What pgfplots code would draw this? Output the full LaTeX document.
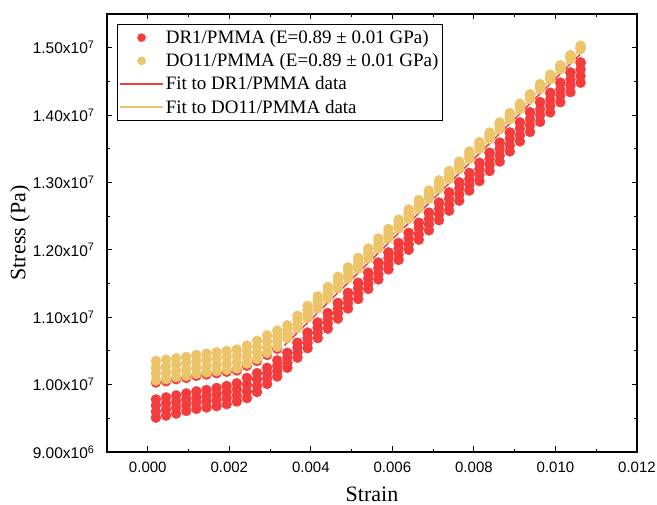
\documentclass[border=0pt]{standalone}
\usepackage{pgfplots}
\pgfplotsset{compat=1.18}
\usepackage{pgfplotstable}
\usepackage{fontspec}
\setmainfont{Liberation Serif}
\newfontfamily\arialfont{Liberation Sans}
\definecolor{cred}{RGB}{245,60,60}
\definecolor{cyel}{RGB}{236,196,106}

% stress in units of 1e6 Pa
\pgfplotstableread{
x r1 r2 r3 r4 r5 y1 y2 y3 y4
0.000200 9.51 9.60 9.69 9.78 10.03 10.06 10.16 10.25 10.35
0.000448 9.54 9.63 9.72 9.81 10.05 10.08 10.18 10.27 10.37
0.000696 9.57 9.66 9.75 9.84 10.08 10.11 10.20 10.30 10.39
0.000944 9.61 9.70 9.78 9.87 10.10 10.13 10.22 10.32 10.41
0.001192 9.64 9.73 9.81 9.90 10.13 10.16 10.25 10.35 10.44
0.001440 9.66 9.75 9.83 9.92 10.15 10.18 10.27 10.37 10.46
0.001688 9.68 9.77 9.86 9.95 10.17 10.20 10.29 10.39 10.48
0.001936 9.71 9.80 9.89 9.98 10.19 10.22 10.31 10.41 10.50
0.002184 9.75 9.84 9.93 10.02 10.21 10.24 10.33 10.43 10.52
0.002432 9.80 9.90 10.00 10.10 10.28 10.31 10.40 10.49 10.58
0.002680 9.89 9.98 10.08 10.17 10.35 10.38 10.47 10.56 10.65
0.002928 10.01 10.09 10.17 10.25 10.44 10.47 10.55 10.64 10.73
0.003176 10.12 10.20 10.28 10.36 10.53 10.56 10.64 10.72 10.80
0.003424 10.25 10.32 10.40 10.47 10.47 10.69 10.75 10.82 10.88
0.003672 10.40 10.47 10.55 10.62 10.62 10.84 10.90 10.96 11.02
0.003920 10.54 10.62 10.69 10.77 10.77 10.99 11.05 11.11 11.17
0.004168 10.69 10.77 10.84 10.92 10.92 11.13 11.19 11.25 11.31
0.004416 10.83 10.91 10.98 11.06 11.06 11.28 11.34 11.39 11.45
0.004664 10.98 11.06 11.13 11.21 11.21 11.43 11.49 11.54 11.60
0.004912 11.13 11.21 11.28 11.36 11.36 11.58 11.63 11.69 11.74
0.005160 11.27 11.35 11.43 11.51 11.51 11.72 11.77 11.83 11.88
0.005408 11.42 11.50 11.58 11.66 11.66 11.87 11.92 11.97 12.02
0.005656 11.56 11.64 11.73 11.81 11.81 12.02 12.07 12.12 12.17
0.005904 11.71 11.79 11.88 11.96 11.96 12.17 12.22 12.26 12.31
0.006152 11.85 11.93 12.02 12.10 12.10 12.32 12.36 12.41 12.45
0.006400 12.00 12.08 12.17 12.25 12.25 12.46 12.51 12.55 12.60
0.006648 12.15 12.23 12.32 12.40 12.40 12.61 12.65 12.70 12.74
0.006896 12.29 12.38 12.46 12.55 12.55 12.76 12.80 12.84 12.88
0.007144 12.44 12.53 12.61 12.70 12.70 12.91 12.95 12.99 13.03
0.007392 12.58 12.67 12.76 12.85 12.85 13.05 13.09 13.13 13.17
0.007640 12.73 12.82 12.91 13.00 13.00 13.20 13.24 13.27 13.31
0.007888 12.88 12.97 13.05 13.14 13.14 13.35 13.39 13.42 13.46
0.008136 13.02 13.11 13.20 13.29 13.29 13.50 13.53 13.57 13.60
0.008384 13.17 13.26 13.35 13.44 13.44 13.65 13.68 13.71 13.74
0.008632 13.31 13.40 13.50 13.59 13.59 13.79 13.82 13.86 13.89
0.008880 13.46 13.55 13.65 13.74 13.74 13.94 13.97 14.00 14.03
0.009128 13.61 13.70 13.80 13.89 13.89 14.09 14.12 14.14 14.17
0.009376 13.75 13.85 13.94 14.04 14.04 14.24 14.26 14.29 14.31
0.009624 13.90 14.00 14.09 14.19 14.19 14.39 14.41 14.44 14.46
0.009872 14.04 14.14 14.23 14.33 14.33 14.53 14.55 14.58 14.60
0.010120 14.19 14.29 14.38 14.48 14.48 14.68 14.70 14.72 14.74
0.010368 14.34 14.44 14.53 14.63 14.63 14.83 14.85 14.87 14.89
0.010616 14.48 14.58 14.68 14.78 14.78 14.98 14.99 15.01 15.03
}\data

\begin{document}
\begin{tikzpicture}
\path[use as bounding box] (-107pt,-53pt) rectangle (550pt,452pt);
\begin{axis}[
  scale only axis, width=530pt, height=438pt,
  xmin=-0.001, xmax=0.012, ymin=9, ymax=15.5,
  xtick={0,0.002,0.004,0.006,0.008,0.010,0.012},
  xticklabels={0.000,0.002,0.004,0.006,0.008,0.010,0.012},
  ytick={9,10,11,12,13,14,15},
  yticklabels={9.00x10\textsuperscript{6},1.00x10\textsuperscript{7},1.10x10\textsuperscript{7},1.20x10\textsuperscript{7},1.30x10\textsuperscript{7},1.40x10\textsuperscript{7},1.50x10\textsuperscript{7}},
  minor x tick num=1, minor y tick num=1,
  scaled x ticks=false, scaled y ticks=false,
  tick align=inside,
  major tick length=5.5pt, minor tick length=3pt,
  axis line style={line width=1.2pt},
  every tick/.style={black, line width=1pt},
  xticklabel style={font=\arialfont\fontsize{15}{17}\selectfont, yshift=-6pt},
  yticklabel style={font=\arialfont\fontsize{15.5}{17}\selectfont, xshift=-9pt},
  xlabel={Strain}, ylabel={Stress (Pa)},
  label style={font=\fontsize{22}{26}\selectfont, inner sep=0pt},
  xlabel style={at={(axis description cs:0.5,-0.096)}, anchor=center},
  ylabel style={at={(axis description cs:-0.164,0.5)}, anchor=center},
  legend style={at={(axis description cs:0,1)}, anchor=north west, xshift=10pt, yshift=-10pt,
    draw=black, line width=0.6pt, font=\fontsize{19}{21}\selectfont,
    row sep=4.5pt, inner xsep=2pt, inner ysep=4pt},
  legend cell align=left,
  legend image code/.code={\draw[mark repeat=2,mark phase=2,#1,mark size=4pt] plot coordinates {(0pt,0pt) (21.5pt,0pt) (43pt,0pt)};},
]
\addplot[only marks, mark=*, mark size=5pt, color=cred, mark options={draw=none, fill=cred}] table[x=x,y=r1]{\data};
\addlegendentry{DR1/PMMA (E=0.89 ± 0.01 GPa)}
\addplot[forget plot, only marks, mark=*, mark size=5pt, color=cred, mark options={draw=none, fill=cred}] table[x=x,y=r2]{\data};
\addplot[forget plot, only marks, mark=*, mark size=5pt, color=cred, mark options={draw=none, fill=cred}] table[x=x,y=r3]{\data};
\addplot[forget plot, only marks, mark=*, mark size=5pt, color=cred, mark options={draw=none, fill=cred}] table[x=x,y=r4]{\data};
\addplot[forget plot, only marks, mark=*, mark size=5pt, color=cred, mark options={draw=none, fill=cred}] table[x=x,y=r5]{\data};
\addplot[only marks, mark=*, mark size=5pt, color=cyel, mark options={draw=none, fill=cyel}] table[x=x,y=y1]{\data};
\addlegendentry{DO11/PMMA (E=0.89 ± 0.01 GPa)}
\addplot[forget plot, only marks, mark=*, mark size=5pt, color=cyel, mark options={draw=none, fill=cyel}] table[x=x,y=y2]{\data};
\addplot[forget plot, only marks, mark=*, mark size=5pt, color=cyel, mark options={draw=none, fill=cyel}] table[x=x,y=y3]{\data};
\addplot[forget plot, only marks, mark=*, mark size=5pt, color=cyel, mark options={draw=none, fill=cyel}] table[x=x,y=y4]{\data};
\addplot[color=cred, line width=1.5pt, no marks] coordinates {(0.00335,10.58) (0.0106,14.90)};
\addlegendentry{Fit to DR1/PMMA data}
\addplot[color=cyel, line width=1.5pt, no marks] coordinates {(0.00335,10.64) (0.0106,14.96)};
\addlegendentry{Fit to DO11/PMMA data}
\end{axis}
\end{tikzpicture}
\end{document}
